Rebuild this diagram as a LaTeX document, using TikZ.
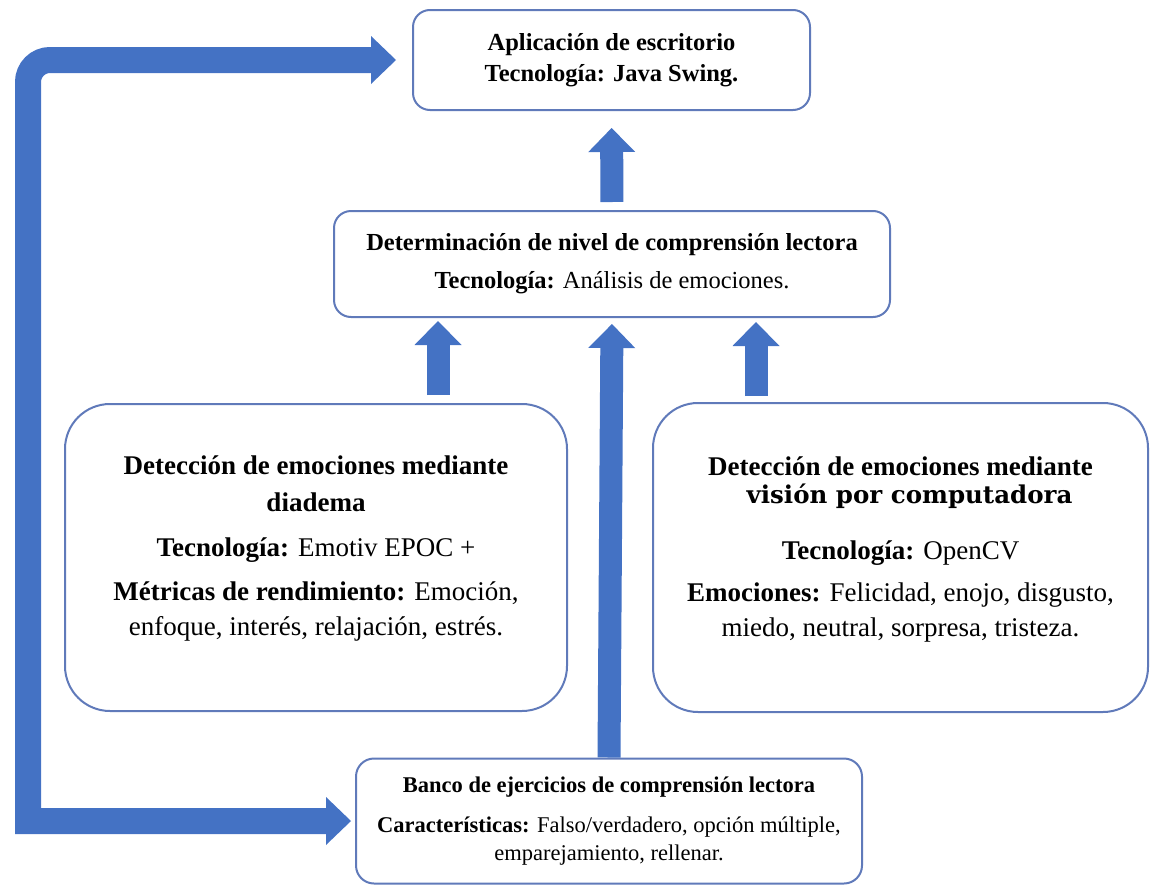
\documentclass[tikz,border=0pt]{standalone}
\usepackage{fontspec}
\setmainfont{Liberation Serif}
\newfontfamily\visfont{DejaVu Serif}
\usepackage{xcolor}
\usepackage{tikz}
\usetikzlibrary{arrows.meta}

\definecolor{azul}{RGB}{68,114,196}
\definecolor{borde}{RGB}{96,122,186}

\begin{document}
\begin{tikzpicture}[x=1pt, y=-1pt,
                caja/.style={draw=borde, line width=2, fill=white, align=center, inner sep=0},
                flecha/.style={draw, color=azul, line width=23, -{Triangle[length=24pt, width=47pt, line width=0pt]}},
                vuelta/.style={draw, color=azul, line width=26, {Triangle[length=25pt, width=48pt, line width=0pt]}-{Triangle[length=25pt, width=48pt, line width=0pt]}}]
                \useasboundingbox (0,0) rectangle (1151,886);
                % cajas
                \node[caja, rounded corners=17, minimum width=397, minimum height=100, font=\fontsize{24.5}{31}\selectfont] at (611.5,60) (app) {\textbf{Aplicación de escritorio}\\ \textbf{Tecnología: Java Swing.}};
                \node[caja, rounded corners=17, minimum width=556, minimum height=106, font=\fontsize{24.5}{30}\selectfont] at (612,264) (nivel) {\textbf{Determinación de nivel de comprensión lectora}\\[8pt] \textbf{Tecnología:} Análisis de emociones.};
                \node[caja, rounded corners=45, minimum width=502, minimum height=307, font=\fontsize{27}{33}\selectfont] at (316,557.5) (diad) {\textbf{Detección de emociones mediante}\\[4pt] \textbf{diadema}\\[12pt] \textbf{Tecnología:} Emotiv EPOC +\\[11pt] \textbf{Métricas de rendimiento:} Emoción,\\[2pt] enfoque, interés, relajación, estrés.\rule[-23pt]{0pt}{0pt}};
                \node[caja, rounded corners=45, minimum width=495, minimum height=309, font=\fontsize{27}{33}\selectfont] at (900.5,557.5) (vis) {\textbf{Detección de emociones mediante}\\[-5pt] \hspace*{18pt}{\visfont\bfseries\fontsize{24.5}{33}\selectfont visión por computadora}\\[23pt] \textbf{Tecnología:} OpenCV\\[9pt] \textbf{Emociones:} Felicidad, enojo, disgusto,\\[2pt] miedo, neutral, sorpresa, tristeza.\rule[-21pt]{0pt}{0pt}};
                \node[caja, rounded corners=18, minimum width=506, minimum height=125, font=\fontsize{22.5}{28}\selectfont] at (609,821) (banco) {\textbf{Banco de ejercicios de comprensión lectora}\\[12pt] \textbf{Características:} Falso/verdadero, opción múltiple,\\ emparejamiento, rellenar.};
                % flechas
                \path
                    (nivel.north) edge [flecha, shorten <=8, shorten >=17] (app.south)
                    (438,0 |- diad.north) edge [flecha, shorten <=8, shorten >=3] (438,0 |- nivel.south)
                    (banco.north) edge [flecha, shorten >=6] (nivel.south)
                    (756,0 |- vis.north) edge [flecha, shorten <=6, shorten >=4] (756,0 |- nivel.south);
                \draw[vuelta, shorten <=16, shorten >=4] (app.west) [rounded corners=22] -- (28,0 |- app.west) [sharp corners] -- (28,0 |- banco.west) -- (banco.west);
\end{tikzpicture}
\end{document}
